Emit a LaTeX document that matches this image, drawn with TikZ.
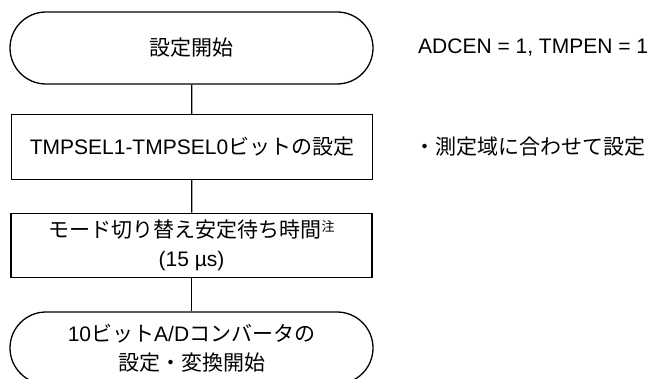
\documentclass[tikz,border=0pt]{standalone}
\usepackage{fontspec}
\setmainfont{Liberation Sans}
\newfontfamily\ja{Noto Sans CJK JP}
\usetikzlibrary{positioning}
\tikzset{
    term/.style={draw, line width=1.3pt, rounded corners=36pt, minimum width=363pt, minimum height=72pt, inner sep=0pt, align=center, font=\fontsize{21}{28.5}\selectfont},
    proc/.style={draw, line width=1.3pt, minimum width=361pt, minimum height=64.5pt, inner sep=0pt, align=center, font=\fontsize{21}{28.5}\selectfont},
    memo/.style={anchor=west, inner sep=0pt, font=\fontsize{21}{24}\selectfont}
}
\begin{document}
\begin{tikzpicture}[x=1pt, y=1pt]
                \useasboundingbox (0,0) rectangle (655,378);
                \clip (0,0) rectangle (655,378);
                \node[term] (start) at (191.5,330) {{\ja 設定開始}};
                \node[proc] (tmpsel) at (192,231) {TMPSEL1-TMPSEL0{\ja ビットの設定}};
                \node[proc] (wait) at (191.5,132.5) {{\ja モード切り替え安定待ち時間}\raisebox{0.6ex}{\ja\fontsize{13}{13}\selectfont 注}\\(15 µs)};
                \node[term] (adc) at (191.5,30) {10{\ja ビット}A/D{\ja コンバータの}\\{\ja 設定・変換開始}};
                \foreach \a/\b in {start/tmpsel,tmpsel/wait,wait/adc} {
                    \draw[line width=1.3pt] (\a) -- (\b);
                }
                \node[memo] (en) at (418,330) {ADCEN = 1, TMPEN = 1};
                \node[memo] (range) at (414,231) {{\ja ・測定域に合わせて設定}};
            \end{tikzpicture}
\end{document}
